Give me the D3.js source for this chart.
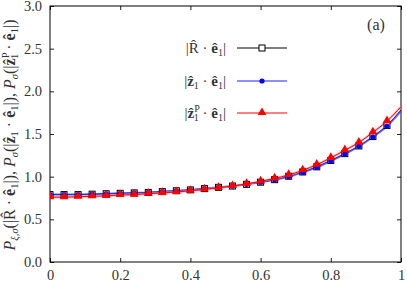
<!DOCTYPE html>
<html>
<head>
<meta charset="utf-8">
<script src="https://cdn.jsdelivr.net/npm/d3@7"></script>
<style>
  body { margin: 0; background: white; }
  text, tspan { font-family: Liberation Serif !important; }
</style>
</head>
<body>
<div id="chart"></div>
<script>
// data
const xs        = [0, 0.04, 0.08, 0.12, 0.16, 0.2, 0.24, 0.28, 0.32, 0.36, 0.4, 0.44, 0.48, 0.52, 0.56, 0.6, 0.64, 0.68, 0.72, 0.76, 0.8, 0.84, 0.88, 0.92, 0.96, 1.0];
const rValues   = [0.79, 0.79, 0.79, 0.795, 0.80, 0.805, 0.81, 0.815, 0.825, 0.835, 0.845, 0.86, 0.875, 0.89, 0.91, 0.935, 0.965, 1.005, 1.055, 1.115, 1.19, 1.27, 1.36, 1.47, 1.60, 1.78];
const zValues   = [0.79, 0.79, 0.79, 0.795, 0.80, 0.805, 0.81, 0.815, 0.825, 0.835, 0.845, 0.86, 0.875, 0.89, 0.91, 0.935, 0.965, 1.0, 1.05, 1.11, 1.185, 1.265, 1.355, 1.465, 1.59, 1.77];
const zpValues  = [0.76, 0.76, 0.765, 0.77, 0.775, 0.785, 0.79, 0.80, 0.81, 0.82, 0.835, 0.85, 0.87, 0.89, 0.915, 0.945, 0.98, 1.02, 1.075, 1.14, 1.22, 1.31, 1.40, 1.52, 1.65, 1.82];
const xTicks    = [0, 0.2, 0.4, 0.6, 0.8, 1];
const xTickText = ['0', '0.2', '0.4', '0.6', '0.8', '1'];
const yTicks    = [0, 0.5, 1.0, 1.5, 2.0, 2.5, 3.0];

const width = 407, height = 282;
const margin = {top: 6, right: 6, bottom: 20, left: 50};
const cWidth = width - margin.left - margin.right;
const cHeight = height - margin.top - margin.bottom;
const serif = 'Liberation Serif';

const svg = d3.select('#chart').append('svg')
    .attr('width', width).attr('height', height);
const g = svg.append('g').attr('transform', `translate(${margin.left},${margin.top})`);

const x = d3.scaleLinear().domain([0, 1]).range([0, cWidth]);
const y = d3.scaleLinear().domain([0, 3]).range([cHeight, 0]);

// axes with inward ticks on all four sides
g.append('g').attr('transform', `translate(0,${cHeight})`)
    .call(d3.axisBottom(x).tickValues(xTicks).tickSizeInner(-4).tickSizeOuter(0)
        .tickPadding(8).tickFormat((d, i) => xTickText[i]));
g.append('g')
    .call(d3.axisTop(x).tickValues(xTicks).tickSizeInner(-4).tickSizeOuter(0).tickFormat(''));
g.append('g')
    .call(d3.axisLeft(y).tickValues(yTicks).tickSizeInner(-4).tickSizeOuter(0)
        .tickPadding(8).tickFormat(d3.format('.1f')));
g.append('g').attr('transform', `translate(${cWidth},0)`)
    .call(d3.axisRight(y).tickValues(yTicks).tickSizeInner(-4).tickSizeOuter(0).tickFormat(''));
g.selectAll('.domain').remove();
g.selectAll('g').attr('font-family', serif);
g.selectAll('.tick text').style('font-size', '14.5px').attr('fill', '#333');
g.selectAll('.tick line').attr('stroke', '#222');

g.append('rect').attr('width', cWidth).attr('height', cHeight)
    .attr('fill', 'none').attr('stroke', 'black').attr('stroke-width', 1);

// curves
const line = vals => d3.line().x((d, i) => x(xs[i])).y(d => y(d)).curve(d3.curveMonotoneX)(vals);
g.append('clipPath').attr('id', 'clip').append('rect').attr('width', cWidth).attr('height', cHeight);
const plot = g.append('g').attr('clip-path', 'url(#clip)');

plot.append('path').attr('d', line(rValues)).attr('fill', 'none').attr('stroke', 'black').attr('stroke-width', 1);
plot.append('path').attr('d', line(zValues)).attr('fill', 'none').attr('stroke', '#3a3aff').attr('stroke-opacity', 0.75).attr('stroke-width', 2);
plot.append('path').attr('d', line(zpValues)).attr('fill', 'none').attr('stroke', '#ff8f8f').attr('stroke-opacity', 0.6).attr('stroke-width', 2.5);
plot.append('path').attr('d', line(zpValues)).attr('fill', 'none').attr('stroke', 'red').attr('stroke-width', 1);

// markers (not at the last point)
const mIdx = xs.map((d, i) => i).filter(i => xs[i] < 0.99);
const tri = d3.symbol().type(d3.symbolTriangle).size(34);

plot.append('g').selectAll('rect').data(mIdx).enter().append('rect')
    .attr('x', i => x(xs[i]) - 3).attr('y', i => y(rValues[i]) - 3)
    .attr('width', 6).attr('height', 6)
    .attr('fill', '#ddd').attr('stroke', 'black').attr('stroke-width', 1);
plot.append('g').selectAll('circle').data(mIdx).enter().append('circle')
    .attr('cx', i => x(xs[i])).attr('cy', i => y(zValues[i])).attr('r', 2.6)
    .attr('fill', 'blue');
plot.append('g').selectAll('path').data(mIdx).enter().append('path')
    .attr('d', tri).attr('transform', i => `translate(${x(xs[i])},${y(zpValues[i]) - 0.5})`)
    .attr('fill', 'red');

// legend
const legendRows = [
    {y: 48, key: 'R'},
    {y: 81, key: 'z'},
    {y: 113, key: 'zp'}
];
const lx0 = 237 - margin.left, lx1 = 287 - margin.left, lxm = 262 - margin.left, tx = 226 - margin.left;

legendRows.forEach(r => {
    const yy = r.y - margin.top;
    const t = g.append('text').attr('x', tx).attr('y', yy + 5).attr('text-anchor', 'end')
        .style('font-size', '15px').attr('fill', '#333');
    t.append('tspan').text('|');
    if (r.key === 'R') {
        t.append('tspan').text('R\u0302');
        t.append('tspan').text(' \u00b7 ');
    } else {
        t.append('tspan').attr('font-weight', 'bold').text('z\u0302');
        if (r.key === 'zp') {
            t.append('tspan').style('font-size', '10px').attr('dy', -6).text('P');
            t.append('tspan').style('font-size', '10px').attr('dx', -6).attr('dy', 9).text('1');
        } else {
            t.append('tspan').style('font-size', '10px').attr('dy', 3).text('1');
        }
        t.append('tspan').attr('dy', -3).text(' \u00b7 ');
    }
    t.append('tspan').attr('font-weight', 'bold').text('\u00ea');
    t.append('tspan').style('font-size', '10px').attr('dy', 3).text('1');
    t.append('tspan').attr('dy', -3).text('|');

    if (r.key === 'R') {
        g.append('line').attr('x1', lx0).attr('x2', lx1).attr('y1', yy).attr('y2', yy).attr('stroke', 'black');
        g.append('rect').attr('x', lxm - 3).attr('y', yy - 3).attr('width', 6).attr('height', 6)
            .attr('fill', 'white').attr('stroke', 'black');
    } else if (r.key === 'z') {
        g.append('line').attr('x1', lx0).attr('x2', lx1).attr('y1', yy).attr('y2', yy).attr('stroke', '#8f8fff').attr('stroke-width', 2);
        g.append('circle').attr('cx', lxm).attr('cy', yy).attr('r', 2.6).attr('fill', 'blue');
    } else {
        g.append('line').attr('x1', lx0).attr('x2', lx1).attr('y1', yy).attr('y2', yy).attr('stroke', 'red').attr('stroke-width', 1.2);
        g.append('path').attr('d', tri).attr('transform', `translate(${lxm},${yy - 0.5})`).attr('fill', 'red');
    }
});

// panel label
g.append('text').attr('x', 376 - margin.left).attr('y', 30 - margin.top).attr('text-anchor', 'middle')
    .style('font-size', '16px').attr('fill', '#333').text('(a)');

// y label
const yl = svg.append('text').attr('transform', `translate(15,${margin.top + cHeight / 2 + 1}) rotate(-90)`)
    .attr('text-anchor', 'middle').style('font-size', '16px').attr('fill', '#333');
const sub = (txt, italic) => {
    const s = yl.append('tspan').style('font-size', '10.5px').attr('dy', 3).text(txt);
    if (italic) s.attr('font-style', 'italic');
    return s;
};
yl.append('tspan').attr('font-style', 'italic').text('P');
sub('\u03be,\u03c3', true);
yl.append('tspan').attr('dy', -3).text('(|R\u0302 \u00b7 ');
yl.append('tspan').attr('font-weight', 'bold').text('\u00ea');
sub('1');
yl.append('tspan').attr('dy', -3).text('|),  ');
yl.append('tspan').attr('font-style', 'italic').text('P');
sub('\u03c3', true);
yl.append('tspan').attr('dy', -3).text('(|');
yl.append('tspan').attr('font-weight', 'bold').text('z\u0302');
sub('1');
yl.append('tspan').attr('dy', -3).text(' \u00b7 ');
yl.append('tspan').attr('font-weight', 'bold').text('\u00ea');
sub('1');
yl.append('tspan').attr('dy', -3).text('|),  ');
yl.append('tspan').attr('font-style', 'italic').text('P');
sub('\u03c3', true);
yl.append('tspan').attr('dy', -3).text('(|');
yl.append('tspan').attr('font-weight', 'bold').text('z\u0302');
yl.append('tspan').style('font-size', '10.5px').attr('dy', -6).text('P');
yl.append('tspan').style('font-size', '10.5px').attr('dx', -6.5).attr('dy', 9).text('1');
yl.append('tspan').attr('dy', -3).text(' \u00b7 ');
yl.append('tspan').attr('font-weight', 'bold').text('\u00ea');
sub('1');
yl.append('tspan').attr('dy', -3).text('|)');

svg.selectAll('text').style('font-family', serif);
</script>
</body>
</html>
